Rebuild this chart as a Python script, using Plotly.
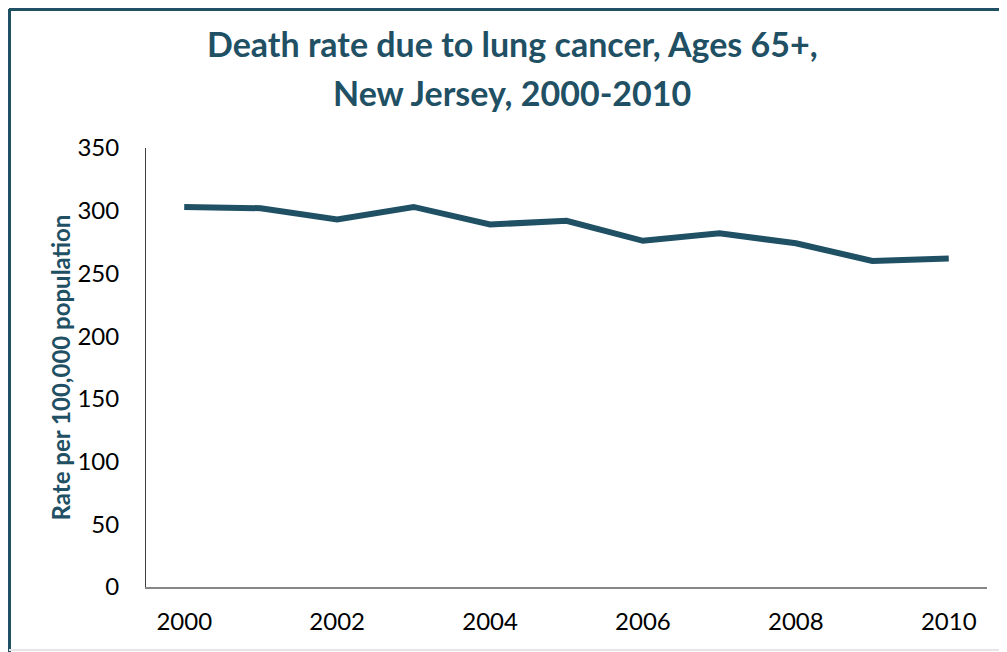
import plotly.graph_objects as go

# Datos
anios = [2000, 2001, 2002, 2003, 2004, 2005, 2006, 2007, 2008, 2009, 2010]
tasa = [303, 302, 293, 303, 289, 292, 276, 282, 274, 260, 262]
ticks_x = [2000, 2002, 2004, 2006, 2008, 2010]

titulo_1 = 'Death rate due to lung cancer, Ages 65+,'
titulo_2 = 'New Jersey, 2000-2010'
titulo_y = 'Rate per 100,000 population'

teal = '#1f5064'
fuente = 'Lato'

fig = go.Figure()
fig.add_trace(go.Scatter(x=anios, y=tasa, mode='lines', line=dict(color=teal, width=6), showlegend=False))

# la pagina tiene 8px de margen en el body, por eso el ancho/alto se reducen
fig.update_layout(
    width=999, height=644,
    margin=dict(l=138, r=20, t=140, b=65),
    paper_bgcolor='white', plot_bgcolor='white',
    font=dict(family=fuente, size=24, color='black'),
)

# Titulo en dos lineas
for texto, yy in [(titulo_1, 1.2370), (titulo_2, 1.1265)]:
    fig.add_annotation(text=f'<b>{texto}</b>', xref='paper', yref='paper', x=0.4352, y=yy,
                       xanchor='center', yanchor='middle', showarrow=False,
                       font=dict(family=fuente, size=34, color=teal))

fig.update_xaxes(range=[1999.5, 2010.5], tickmode='array', tickvals=ticks_x,
                 showgrid=False, zeroline=False, showline=True, linecolor='#878787', linewidth=2,
                 ticks='', ticklabelstandoff=12)
fig.update_yaxes(range=[0, 350], dtick=50, showgrid=False, zeroline=False, showline=True,
                 linecolor='#404040', linewidth=1, ticks='', ticklabelstandoff=21,
                 title=dict(text=f'<b>{titulo_y}</b>', standoff=0,
                            font=dict(family=fuente, size=24, color=teal)))

# Borde del recuadro (arriba e izquierda) y linea gris inferior
x_borde = -137 / 841
y_borde = 1 + 139 / 439
fig.add_shape(type='line', xref='paper', yref='paper', x0=x_borde, x1=1.03, y0=y_borde, y1=y_borde,
              line=dict(color=teal, width=4))
fig.add_shape(type='line', xref='paper', yref='paper', x0=x_borde, x1=x_borde, y0=-0.16, y1=y_borde,
              line=dict(color=teal, width=4))
fig.add_shape(type='line', xref='paper', yref='paper', x0=x_borde, x1=1.03, y0=-0.1435, y1=-0.1435,
              line=dict(color='#e6e6e6', width=2))

fig.write_html('out.html')
